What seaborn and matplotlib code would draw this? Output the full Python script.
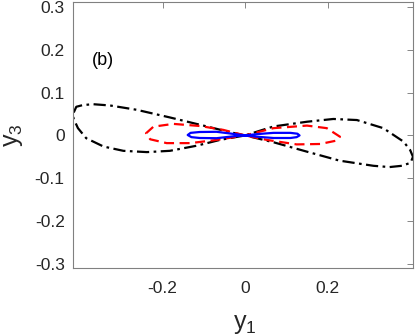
import matplotlib
matplotlib.use('Agg')
import matplotlib.pyplot as plt
import seaborn as sns

# values (y1, y3), each loop traced from the origin
black_y1 = [0, -0.036, -0.101, -0.182, -0.263, -0.327, -0.368, -0.393, -0.409, -0.416,
            -0.416, -0.405, -0.385, -0.343, -0.295, -0.238, -0.182, -0.117, -0.061, 0,
            0.069, 0.150, 0.214, 0.271, 0.335, 0.384, 0.400, 0.407, 0.401, 0.380,
            0.350, 0.311, 0.229, 0.150, 0.069, 0]
black_y3 = [0, 0.0075, 0.023, 0.042, 0.060, 0.070, 0.073, 0.071, 0.067, 0.052,
            0.040, 0.017, -0.0065, -0.026, -0.036, -0.039, -0.036, -0.024, -0.0105, 0,
            0.021, 0.032, 0.0385, 0.036, 0.017, -0.0145, -0.034, -0.050, -0.064, -0.071,
            -0.074, -0.071, -0.059, -0.038, -0.016, 0]

red_y1 = [0, -0.053, -0.109, -0.174, -0.222, -0.240, -0.230, -0.190, -0.133, -0.069, 0,
          0.069, 0.150, 0.198, 0.230, 0.222, 0.182, 0.125, 0.053, 0]
red_y3 = [0, 0.013, 0.022, 0.027, 0.0205, 0.005, -0.009, -0.018, -0.018, -0.0105, 0,
          0.017, 0.023, 0.017, -0.003, -0.012, -0.020, -0.021, -0.0105, 0]

blue_y1 = [0, -0.028, -0.069, -0.110, -0.132, -0.139, -0.130, -0.110, -0.069, -0.028, 0,
           0.028, 0.069, 0.110, 0.127, 0.132, 0.125, 0.110, 0.069, 0.028, 0]
blue_y3 = [0, 0.0035, 0.0085, 0.008, 0.006, 0.001, -0.004, -0.006, -0.0065, -0.002, 0,
           0.003, 0.006, 0.006, 0.004, 0.0, -0.004, -0.006, -0.006, -0.003, 0]

x_ticks = [-0.2, 0, 0.2]
y_ticks = [-0.3, -0.2, -0.1, 0, 0.1, 0.2, 0.3]

sns.set_style('white')
plt.rcParams['font.family'] = ['Liberation Sans', 'DejaVu Sans']
plt.rcParams['mathtext.fontset'] = 'custom'
plt.rcParams['mathtext.rm'] = 'Liberation Sans'
plt.rcParams['mathtext.it'] = 'Liberation Sans'

fig = plt.figure(figsize=(4.15, 3.35), dpi=100)
ax = fig.add_axes([73 / 415, 67 / 335, 340 / 415, 266 / 335])

sns.lineplot(x=black_y1, y=black_y3, sort=False, estimator=None, ax=ax,
             color='black', lw=1.6, linestyle=(0, (5.5, 2, 1.2, 2)))
sns.lineplot(x=red_y1, y=red_y3, sort=False, estimator=None, ax=ax,
             color='#ff0000', lw=1.6, linestyle=(0, (4.5, 2.5)))
sns.lineplot(x=blue_y1, y=blue_y3, sort=False, estimator=None, ax=ax,
             color='#0000ff', lw=1.6)

ax.set_xlim(-0.417, 0.407)
ax.set_ylim(-0.31, 0.312)
ax.set_xticks(x_ticks)
ax.set_xticklabels(['-0.2', '0', '0.2'])
ax.set_yticks(y_ticks)
ax.set_yticklabels(['-0.3', '-0.2', '-0.1', '0', '0.1', '0.2', '0.3'])
ax.tick_params(direction='in', length=4, width=0.6, color='0.45', labelsize=12.5,
               labelcolor='0.15', top=True, right=True)
ax.tick_params(axis='x', pad=9.5)
ax.tick_params(axis='y', pad=6)
for s in ax.spines.values():
    s.set_color('0.5')
    s.set_linewidth(0.8)

ax.set_xlabel('$y_1$', fontsize=18, color='0.15')
ax.set_ylabel('$y_3$', fontsize=18, color='0.15')
ax.xaxis.set_label_coords(0.506, -0.166)
ax.yaxis.set_label_coords(-0.142, 0.5)
ax.text(-0.344, 0.176, '(b)', fontsize=13, color='black', ha='center', va='center')

fig.savefig('out.png', dpi=100)
